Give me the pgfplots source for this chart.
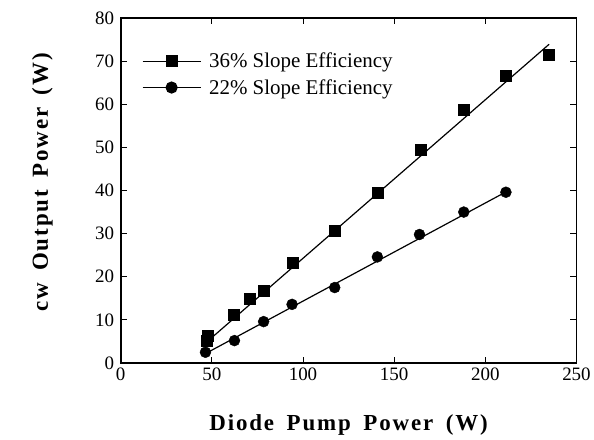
\documentclass[border=0pt]{standalone}
\usepackage{fontspec}
\setmainfont{Liberation Serif}
\usepackage{pgfplots}
\pgfplotsset{compat=1.18}
\begin{document}
\begin{tikzpicture}
\begin{axis}[
  scale only axis,
  width=457pt, height=346pt,
  xmin=0, xmax=250, ymin=0, ymax=80,
  xtick={0,50,...,250}, ytick={0,10,...,80},
  tick pos=both, tick align=inside,
  major tick length=6pt,
  axis line style={line width=1.8pt},
  every tick/.style={black, line width=0.8pt},
  tick label style={font=\fontsize{19}{21}\selectfont},
  yticklabel style={xshift=-3pt},
  xticklabel style={yshift=-1pt},
  /pgf/number format/assume math mode=true,
  xlabel={\addfontfeatures{LetterSpace=8}Diode\hspace{0.55em}Pump\hspace{0.55em}Power\hspace{0.55em}(W)},
  ylabel={\addfontfeatures{LetterSpace=8}cw\hspace{0.55em}Output\hspace{0.55em}Power\hspace{0.55em}(W)},
  label style={font=\fontsize{23}{25}\selectfont\bfseries},
  xlabel style={at={(axis description cs:0.5,0)}, anchor=base, yshift=-68pt},
  ylabel style={at={(axis description cs:0,0.523)}, anchor=base, yshift=73pt},
  legend style={at={(rel axis cs:0.04,0.91)}, anchor=north west, draw=none, fill=none,
    font=\fontsize{21}{23}\selectfont, row sep=6pt, column sep=6pt},
  legend cell align=left,
]
\addplot[black, only marks, mark=square*, mark size=5.5pt,
  legend image code/.code={\draw[sharp plot, line width=1.2pt, mark repeat=2, mark phase=2]
    plot coordinates {(0pt,0pt) (29pt,0pt) (58pt,0pt)};}]
  coordinates {(47,5.2) (47.5,6.3) (62,11.3) (70.6,15.0) (78.4,16.7) (94.3,23.3)
    (117.6,30.6) (140.8,39.6) (164.4,49.5) (188.2,58.7) (211.3,66.6) (234.7,71.4)};
\addlegendentry{36\% Slope Efficiency}
\addplot[black, only marks, mark=*, mark size=5.5pt,
  legend image code/.code={\draw[sharp plot, line width=1.2pt, mark repeat=2, mark phase=2]
    plot coordinates {(0pt,0pt) (29pt,0pt) (58pt,0pt)};}]
  coordinates {(46.5,2.5) (62.4,5.2) (78.4,9.6) (94,13.6) (117.4,17.5) (140.8,24.6)
    (163.9,29.8) (188.2,35.0) (211.3,39.6)};
\addlegendentry{22\% Slope Efficiency}
\addplot[black, line width=1.2pt, forget plot] coordinates {(47,4.8) (235,73.9)};
\addplot[black, line width=1.2pt, forget plot] coordinates {(47,2.3) (211,39.6)};
\end{axis}
\path (current axis.south west) +(-121pt,-75pt) rectangle +(473pt,364pt);
\end{tikzpicture}
\end{document}
